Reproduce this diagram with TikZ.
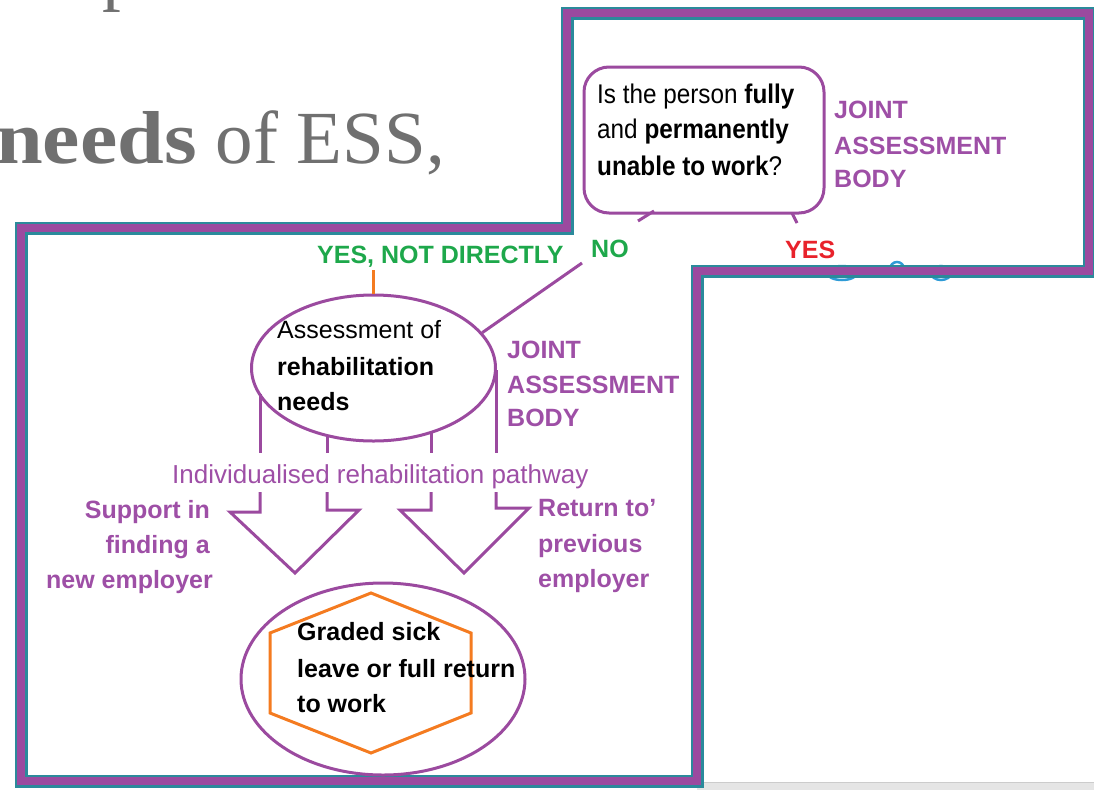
\documentclass[tikz,border=0pt]{standalone}
\usepackage{fontspec}
\setmainfont{Liberation Sans}
\newfontfamily\serifhead{Liberation Serif}
\newfontfamily\serifwide[FakeStretch=1.12]{Liberation Serif}
\newfontfamily\narrowq[FakeStretch=0.9]{Liberation Sans}
\usetikzlibrary{shapes.geometric}
\definecolor{jpurple}{HTML}{9B4A9F}
\definecolor{tpurple}{HTML}{9E4FA6}
\definecolor{frameteal}{HTML}{2B8A9B}
\definecolor{jgreen}{HTML}{1EA84B}
\definecolor{jred}{HTML}{E8222B}
\definecolor{jorange}{HTML}{F47B20}
\definecolor{hgray}{HTML}{707070}
\definecolor{jblue}{HTML}{2E9BD6}
\tikzset{
  basetxt/.style={inner sep=0pt, anchor=base west},
  blacktxt/.style={basetxt, text=black, font=\fontsize{25}{30}\selectfont},
  qtxt/.style={basetxt, text=black, font=\fontsize{27}{30}\selectfont\narrowq},
  purptxt/.style={basetxt, text=tpurple, font=\fontsize{25}{30}\selectfont\bfseries},
  purpright/.style={purptxt, anchor=base east},
  greentxt/.style={basetxt, text=jgreen, font=\fontsize{25}{30}\selectfont\bfseries},
  redtxt/.style={basetxt, text=jred, font=\fontsize{25}{30}\selectfont\bfseries},
  headtxt/.style={inner sep=0pt, text=hgray, font=\fontsize{75}{80}\selectfont\serifhead},
  purpline/.style={draw=jpurple, line width=3pt},
  blockarrow/.style={draw=jpurple, line width=3pt, line join=miter},
}
\begin{document}
\begin{tikzpicture}[x=1pt,y=-1pt]
\useasboundingbox (0,0) rectangle (1094,790);
\clip (0,0) rectangle (1094,790);

% header text (partly cut off)
\node[headtxt, anchor=base west] (ptop) at (102,-4) {p};
\node[headtxt, anchor=base east] (head) at (445,163) {{\serifwide\bfseries needs} of ESS,};

% light gray band bottom right
\fill[black!10] (697,782) rectangle (1094,790);
\draw[black!20, line width=1pt] (697,782) -- (1094,782);

% blue remnants behind the frame
\draw[jblue, line width=2.5pt] (842,273) ellipse [x radius=15, y radius=7];
\draw[jblue, line width=2.5pt] (897,269) ellipse [x radius=7, y radius=7];
\draw[jblue, line width=2.5pt] (941,273) ellipse [x radius=10, y radius=7];

% frame
\draw[frameteal, line width=13pt, line join=miter]
  (567,13) -- (1089,13) -- (1089,271) -- (697,271) -- (697,781) -- (21,781) -- (21,228) -- (567,228) -- cycle;
\draw[jpurple, line width=8.5pt, line join=miter]
  (567,13) -- (1089,13) -- (1089,271) -- (697,271) -- (697,781) -- (21,781) -- (21,228) -- (567,228) -- cycle;

% question box
\node[purpline, rounded corners=25pt, minimum width=240pt, minimum height=146pt, inner sep=0pt] (q) at (704,140) {};
\node[qtxt] (q1) at (597,103) {Is the person \textbf{fully}};
\node[qtxt] (q2) at (597,138) {and \textbf{permanently}};
\node[qtxt] (q3) at (597,175) {\textbf{unable to work}?};

\node[purptxt] (jab1a) at (834,118) {JOINT};
\node[purptxt] (jab1b) at (834,154) {ASSESSMENT};
\node[purptxt] (jab1c) at (834,187) {BODY};

% stubs under the question box
\coordinate (s1a) at (654,211);
\coordinate (s1b) at (638,221);
\draw[purpline] (s1a) -- (s1b);
\coordinate (s2a) at (792,213);
\coordinate (s2b) at (797,223);
\draw[purpline] (s2a) -- (s2b);

\node[greentxt] (no) at (591,257) {NO};
\node[redtxt] (yes) at (785,258) {YES};
\node[greentxt] (ynd) at (317,263) {YES, NOT DIRECTLY};

% assessment ellipse
\node[ellipse, purpline, minimum width=244pt, minimum height=146pt, inner sep=0pt] (assess) at (373.5,368) {};
\node[blacktxt] (a1) at (277,338) {Assessment of};
\node[blacktxt] (a2) at (277,375) {\textbf{rehabilitation}};
\node[blacktxt] (a3) at (277,410) {\textbf{needs}};

\node[purptxt] (jab2a) at (507,358) {JOINT};
\node[purptxt] (jab2b) at (507,393) {ASSESSMENT};
\node[purptxt] (jab2c) at (507,426) {BODY};

% connectors
\coordinate (noend) at (582,263);
\draw[purpline] (noend) -- (assess.18);
\coordinate (ot) at (373.5,270);
\draw[jorange, line width=2.5pt] (ot) -- (assess.north);

% block arrows
\draw[blockarrow] (260,394) -- (260,453);
\draw[blockarrow] (327,436) -- (327,453);
\draw[blockarrow] (260,492) -- (260,512) -- (230,512) -- (295,573) -- (359,510) -- (327,510) -- (327,492);
\draw[blockarrow] (431,432) -- (431,453);
\draw[blockarrow] (496,370) -- (496,453);
\draw[blockarrow] (431,492) -- (431,510) -- (400,510) -- (464,573) -- (529,508) -- (496,508) -- (496,492);

\node[basetxt, text=tpurple, font=\fontsize{26}{30}\selectfont] (path) at (172,483) {Individualised rehabilitation pathway};

\node[purpright] (sup1) at (210,518) {Support in};
\node[purpright] (sup2) at (210,553) {finding a};
\node[purpright] (sup3) at (213,588) {new employer};

\node[purptxt] (ret1) at (538,516) {Return to'};
\node[purptxt] (ret2) at (538,552) {previous};
\node[purptxt] (ret3) at (538,587) {employer};

% outcome
\node[ellipse, purpline, minimum width=284pt, minimum height=192pt, inner sep=0pt] (out) at (383,679) {};
\draw[jorange, line width=3pt, line join=miter]
  (371,593) -- (471,633) -- (471,713) -- (371,753) -- (270,713) -- (270,633) -- cycle;
\node[blacktxt] (g1) at (297,640) {\textbf{Graded sick}};
\node[blacktxt] (g2) at (297,677) {\textbf{leave or full return}};
\node[blacktxt] (g3) at (297,712) {\textbf{to work}};
\end{tikzpicture}
\end{document}
